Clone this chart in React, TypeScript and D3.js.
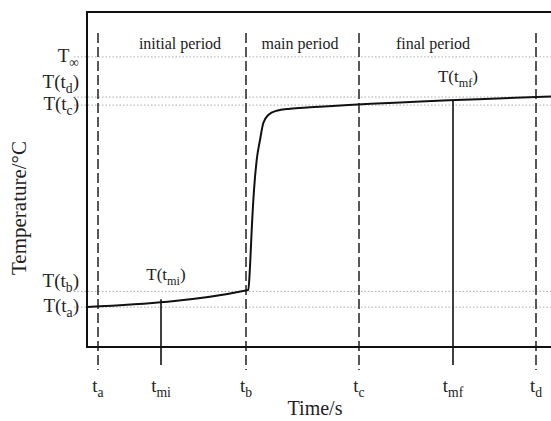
import React, { useRef, useEffect } from "react";
import * as d3 from "d3";

const W = 551;
const H = 421;
const FONT = "'Liberation Serif', 'DejaVu Serif', serif";

// time axis (arbitrary seconds) and temperature (arbitrary units)
const curveTime = [0, 161.3, 163, 164.7, 167, 169.7, 173, 176.3, 181.3, 189.7, 203, 223, 464];
const curveTemp = [11.94, 17.01, 23.97, 34.93, 46.87, 55.82, 61.79, 66.87, 69.25, 70.54, 71.13, 71.55, 74.78];

const markerNames = ["a", "mi", "b", "c", "mf", "d"];
const markerTimes = [11, 74, 159, 272, 366, 449];
const markerSolid = [false, true, false, false, true, false];

const levelNames = ["∞", "d", "c", "b", "a"];
const levelTemps = [86.6, 74.6, 72.2, 16.6, 11.9];
const levelLabelShift = [0, -14, 0, -9, 0];

const periodNames = ["initial period", "main period", "final period"];
const periodCenters = [93, 213, 346];

const MARGIN = { top: 12, right: -1, bottom: 74, left: 87 };

function tempAt(t: number) {
  const i = d3.bisectRight(curveTime, t);
  if (i <= 0) return curveTemp[0];
  if (i >= curveTime.length) return curveTemp[curveTemp.length - 1];
  const t0 = curveTime[i - 1], t1 = curveTime[i];
  const f = (t - t0) / (t1 - t0);
  return curveTemp[i - 1] + f * (curveTemp[i] - curveTemp[i - 1]);
}

export default function App() {
  const svgRef = useRef<SVGSVGElement>(null);

  useEffect(() => {
    const svg = d3.select(svgRef.current);
    svg.selectAll("*").remove();

    const x = d3.scaleLinear().domain([0, 465]).range([MARGIN.left, W - MARGIN.right]);
    const y = d3.scaleLinear().domain([0, 100]).range([H - MARGIN.bottom, MARGIN.top]);
    const bottom = y(0);

    // dotted reference levels
    svg.selectAll(".level")
      .data(levelTemps)
      .join("line")
      .attr("x1", 74)
      .attr("x2", W)
      .attr("y1", (d) => y(d))
      .attr("y2", (d) => y(d))
      .attr("stroke", "#aaa")
      .attr("stroke-width", 1)
      .attr("stroke-dasharray", "1.5,2");

    // dashed period boundaries
    const dashed = markerTimes.filter((_, i) => !markerSolid[i]);
    svg.selectAll(".bound")
      .data(dashed)
      .join("line")
      .attr("x1", (d) => x(d))
      .attr("x2", (d) => x(d))
      .attr("y1", 33)
      .attr("y2", bottom + 23)
      .attr("stroke", "#222")
      .attr("stroke-width", 1.5)
      .attr("stroke-dasharray", "10,4");

    // solid markers t_mi, t_mf
    const solid = markerTimes.filter((_, i) => markerSolid[i]);
    svg.selectAll(".mark")
      .data(solid)
      .join("line")
      .attr("x1", (d) => x(d))
      .attr("x2", (d) => x(d))
      .attr("y1", (d) => y(tempAt(d)))
      .attr("y2", bottom + 18)
      .attr("stroke", "#111")
      .attr("stroke-width", 1.6);

    // frame
    svg.append("rect")
      .attr("x", MARGIN.left)
      .attr("y", MARGIN.top)
      .attr("width", x(465) - MARGIN.left)
      .attr("height", bottom - MARGIN.top)
      .attr("fill", "none")
      .attr("stroke", "#111")
      .attr("stroke-width", 2);

    // temperature curve
    const pts = curveTime.map((t, i) => [t, curveTemp[i]] as [number, number]);
    const line = d3.line<[number, number]>()
      .x((d) => x(d[0]))
      .y((d) => y(d[1]))
      .curve(d3.curveMonotoneX);
    svg.append("path")
      .datum(pts)
      .attr("d", line)
      .attr("fill", "none")
      .attr("stroke", "#111")
      .attr("stroke-width", 2);

    const txt = (g: any, base: string, sub: string, tail: string, size: number) => {
      g.append("tspan").text(base);
      g.append("tspan").attr("font-size", size * 0.72).attr("dy", 5).text(sub);
      if (tail) g.append("tspan").attr("dy", -5).text(tail);
    };

    // left level labels
    levelNames.forEach((n, i) => {
      const t = svg.append("text")
        .attr("x", 79)
        .attr("y", y(levelTemps[i]) + 5 + levelLabelShift[i])
        .attr("text-anchor", "end")
        .attr("font-family", FONT)
        .attr("font-size", 19)
        .attr("fill", "#222");
      if (n === "∞") txt(t, "T", "∞", "", 19);
      else txt(t, "T(t", n, ")", 19);
    });

    // bottom time labels
    markerNames.forEach((n, i) => {
      const t = svg.append("text")
        .attr("x", x(markerTimes[i]))
        .attr("y", bottom + 45)
        .attr("text-anchor", "middle")
        .attr("font-family", FONT)
        .attr("font-size", 19)
        .attr("fill", "#222");
      txt(t, "t", n, "", 19);
    });

    // T(t_mi), T(t_mf) labels
    solid.forEach((tm, i) => {
      const t = svg.append("text")
        .attr("x", x(tm) + 5)
        .attr("y", y(tempAt(tm)) - 19)
        .attr("text-anchor", "middle")
        .attr("font-family", FONT)
        .attr("font-size", 17)
        .attr("fill", "#222");
      txt(t, "T(t", i === 0 ? "mi" : "mf", ")", 17);
    });

    // period labels
    svg.selectAll(".period")
      .data(periodNames)
      .join("text")
      .attr("x", (_, i) => x(periodCenters[i]))
      .attr("y", 49)
      .attr("text-anchor", "middle")
      .attr("font-family", FONT)
      .attr("font-size", 16)
      .attr("fill", "#222")
      .text((d) => d);

    // axis titles
    svg.append("text")
      .attr("x", 315)
      .attr("y", 415)
      .attr("text-anchor", "middle")
      .attr("font-family", FONT)
      .attr("font-size", 20)
      .attr("fill", "#222")
      .text("Time/s");

    svg.append("text")
      .attr("transform", "translate(26,208) rotate(-90)")
      .attr("text-anchor", "middle")
      .attr("font-family", FONT)
      .attr("font-size", 21)
      .attr("fill", "#222")
      .text("Temperature/°C");
  }, []);

  return (
    <svg
      ref={svgRef}
      width={W}
      height={H}
      style={{ position: "absolute", left: 0, top: 0, background: "#fff" }}
    />
  );
}
